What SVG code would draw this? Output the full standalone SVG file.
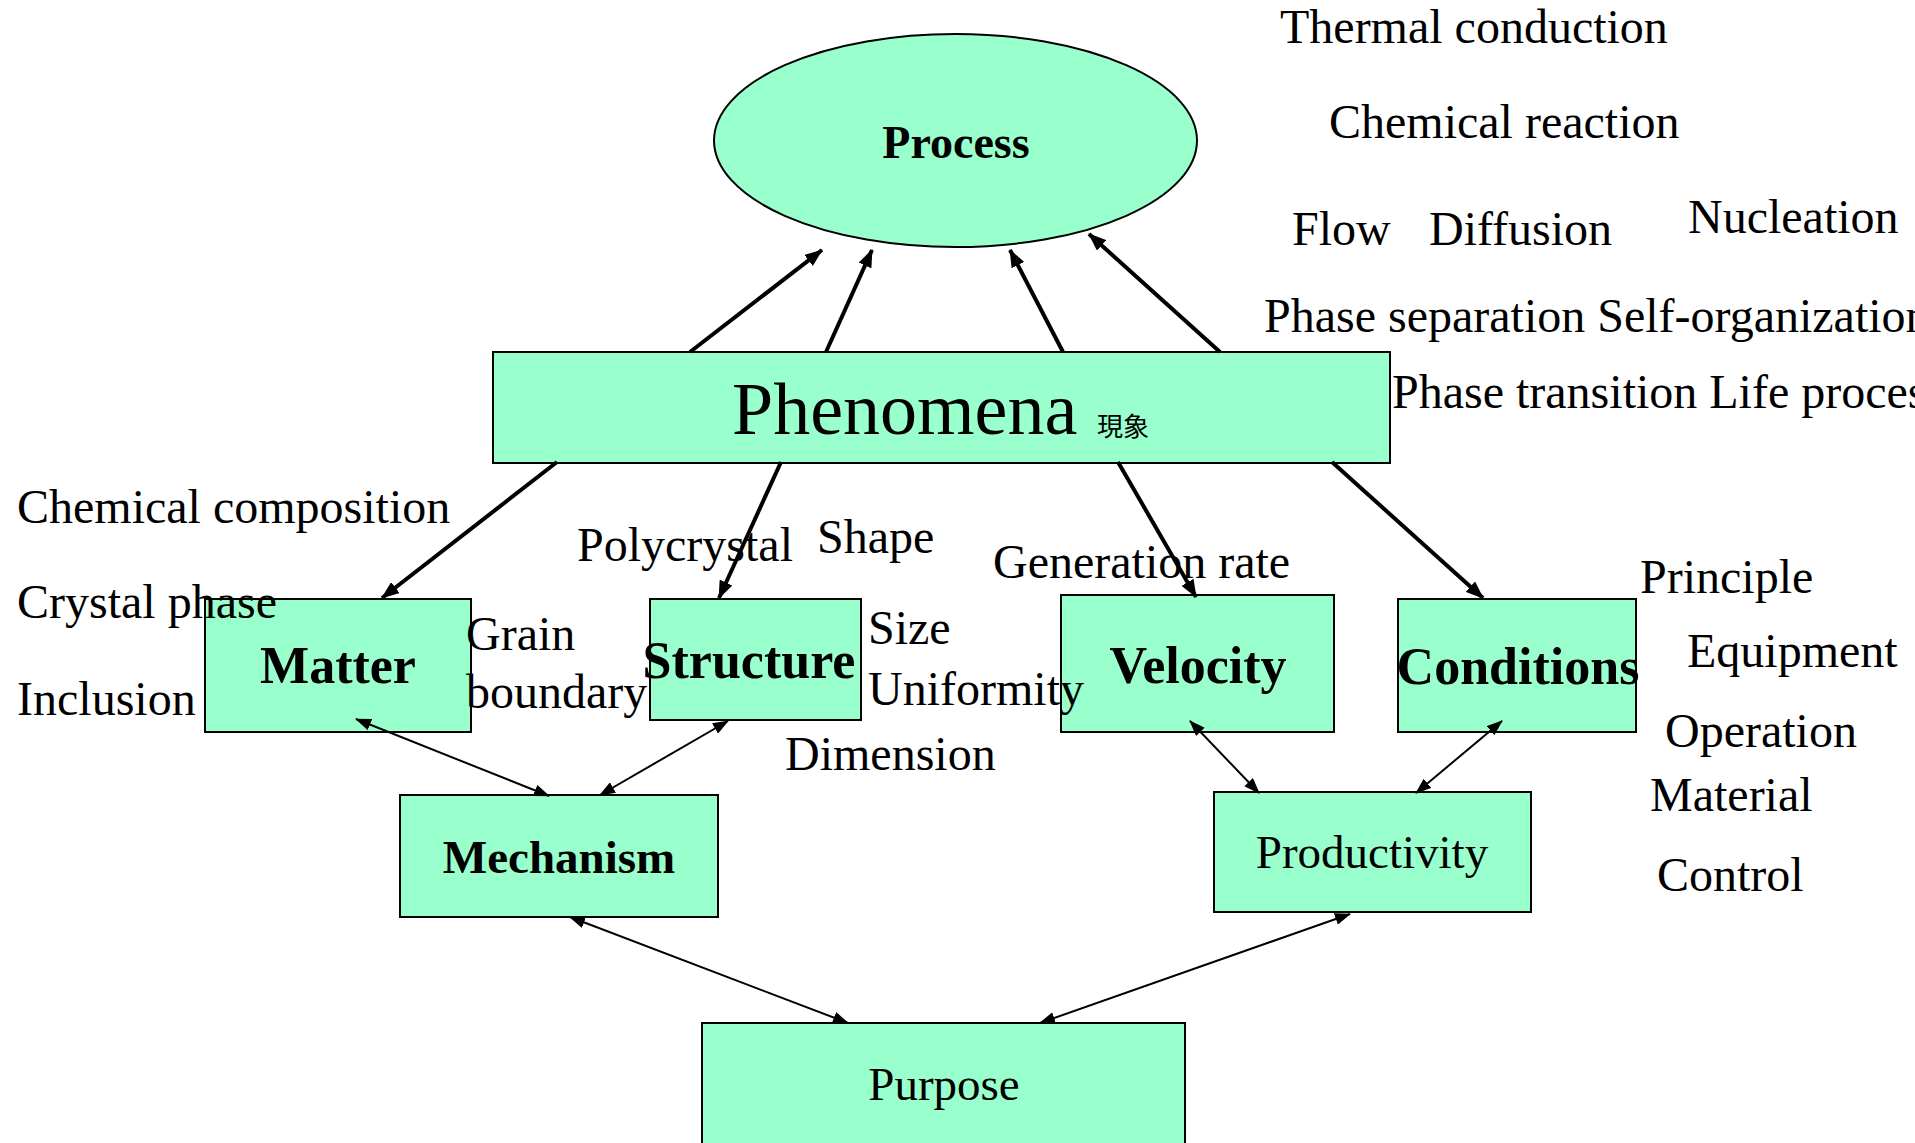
<svg xmlns="http://www.w3.org/2000/svg" width="1915" height="1143" viewBox="0 0 1915 1143">
<style>
.box{fill:#99FFCC;stroke:#000;stroke-width:2}
.t{font-family:"Liberation Serif","Times New Roman","Noto Sans CJK JP",serif;fill:#000}
.lbl{font-size:48px}
.b{font-weight:bold}
.thick{stroke:#000;stroke-width:4;fill:none}
.thin{stroke:#000;stroke-width:2;fill:none}
</style>
<defs>
<marker id="ah" markerUnits="userSpaceOnUse" markerWidth="20" markerHeight="14" refX="17" refY="7" orient="auto">
<path d="M0,0 L18,7 L0,14 Z" fill="#000"/>
</marker>
<marker id="ah2" markerUnits="userSpaceOnUse" markerWidth="18" markerHeight="12" refX="15" refY="6" orient="auto-start-reverse">
<path d="M0,0 L16,6 L0,12 Z" fill="#000"/>
</marker>
</defs>

<g id="process">
<ellipse class="box" cx="955.5" cy="140.5" rx="241.5" ry="106.5"/>
<text class="t b" x="956" y="158" font-size="46" text-anchor="middle">Process</text>
</g>
<g id="phenomena">
<rect class="box" x="493" y="352" width="897" height="111"/>
<text class="t" x="732" y="434" font-size="74">Phenomena</text>
<text class="t" x="1097" y="436" font-size="26" font-family="'Noto Sans CJK JP',sans-serif">現象</text>
</g>
<g id="matter">
<rect class="box" x="205" y="599" width="266" height="133"/>
<text class="t b" x="338" y="683" font-size="52" text-anchor="middle">Matter</text>
</g>
<g id="structure">
<rect class="box" x="650" y="599" width="211" height="121"/>
<text class="t b" x="749" y="678" font-size="52" text-anchor="middle">Structure</text>
</g>
<g id="velocity">
<rect class="box" x="1061" y="595" width="273" height="137"/>
<text class="t b" x="1198" y="683" font-size="52" text-anchor="middle">Velocity</text>
</g>
<g id="conditions">
<rect class="box" x="1398" y="599" width="238" height="133"/>
<text class="t b" x="1518" y="684" font-size="52" text-anchor="middle">Conditions</text>
</g>
<g id="mechanism">
<rect class="box" x="400" y="795" width="318" height="122"/>
<text class="t b" x="559" y="873" font-size="47" text-anchor="middle">Mechanism</text>
</g>
<g id="productivity">
<rect class="box" x="1214" y="792" width="317" height="120"/>
<text class="t" x="1372" y="868" font-size="47" text-anchor="middle">Productivity</text>
</g>
<g id="purpose">
<rect class="box" x="702" y="1023" width="483" height="122"/>
<text class="t" x="944" y="1100" font-size="47" text-anchor="middle">Purpose</text>
</g>

<g id="labels" class="t lbl">
<text x="1280" y="43">Thermal conduction</text>
<text x="1329" y="138">Chemical reaction</text>
<text x="1292" y="245">Flow</text>
<text x="1429" y="245">Diffusion</text>
<text x="1688" y="233">Nucleation</text>
<text x="1264" y="332">Phase separation Self-organization</text>
<text x="1392" y="408">Phase transition Life process</text>
<text x="17" y="523">Chemical composition</text>
<text x="17" y="618">Crystal phase</text>
<text x="17" y="715">Inclusion</text>
<text x="466" y="650">Grain</text>
<text x="466" y="708">boundary</text>
<text x="577" y="561">Polycrystal</text>
<text x="817" y="553">Shape</text>
<text x="868" y="644">Size</text>
<text x="868" y="705">Uniformity</text>
<text x="785" y="770">Dimension</text>
<text x="993" y="578">Generation rate</text>
<text x="1640" y="593">Principle</text>
<text x="1687" y="667">Equipment</text>
<text x="1665" y="747">Operation</text>
<text x="1650" y="811">Material</text>
<text x="1657" y="891">Control</text>
</g>

<g id="connectors">
<line class="thick" x1="690" y1="352" x2="822" y2="250" marker-end="url(#ah)"/>
<line class="thick" x1="826" y1="352" x2="872" y2="250" marker-end="url(#ah)"/>
<line class="thick" x1="1063" y1="352" x2="1010" y2="250" marker-end="url(#ah)"/>
<line class="thick" x1="1220" y1="352" x2="1089" y2="234" marker-end="url(#ah)"/>
<line class="thick" x1="557" y1="462" x2="382" y2="598" marker-end="url(#ah)"/>
<line class="thick" x1="781" y1="462" x2="719" y2="598" marker-end="url(#ah)"/>
<line class="thick" x1="1118" y1="462" x2="1196" y2="597" marker-end="url(#ah)"/>
<line class="thick" x1="1332" y1="462" x2="1483" y2="598" marker-end="url(#ah)"/>
<line class="thin" x1="356" y1="719" x2="549" y2="796" marker-start="url(#ah2)" marker-end="url(#ah2)"/>
<line class="thin" x1="728" y1="721" x2="600" y2="795" marker-start="url(#ah2)" marker-end="url(#ah2)"/>
<line class="thin" x1="1190" y1="721" x2="1259" y2="793" marker-start="url(#ah2)" marker-end="url(#ah2)"/>
<line class="thin" x1="1502" y1="721" x2="1416" y2="793" marker-start="url(#ah2)" marker-end="url(#ah2)"/>
<line class="thin" x1="570" y1="917" x2="848" y2="1023" marker-start="url(#ah2)" marker-end="url(#ah2)"/>
<line class="thin" x1="1350" y1="914" x2="1040" y2="1023" marker-start="url(#ah2)" marker-end="url(#ah2)"/>
</g>
</svg>
